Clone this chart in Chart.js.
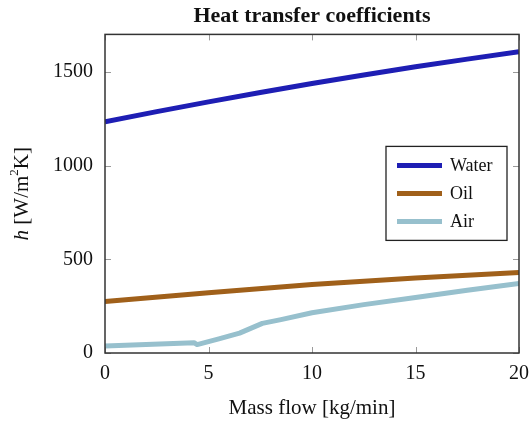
<!DOCTYPE html>
<html>
<head>
<meta charset="utf-8">
<script src="https://cdn.jsdelivr.net/npm/chart.js@4/dist/chart.umd.min.js"></script>
<style>
  html, body { margin: 0; padding: 0; background: #fff; }
  #wrap { width: 530px; height: 424px; }
</style>
</head>
<body>
<div id="wrap"><canvas id="chart" width="530" height="424"></canvas></div>
<script>
'use strict';

// values
var waterX = [0, 2.5, 5, 7.5, 10, 12.5, 15, 17.5, 20];
var waterY = [1233, 1288, 1340, 1390, 1438, 1483, 1527, 1568, 1607];

var oilX = [0, 5, 10, 15, 20];
var oilY = [275, 322, 365, 400, 429];

var airX = [0, 4.3, 4.45, 5.5, 6.5, 7.6, 8.5, 10, 12.5, 15, 17.5, 20];
var airY = [37, 55, 45, 75, 106, 158, 178, 215, 258, 296, 335, 371];

var xTicks = [0, 5, 10, 15, 20];
var yTicks = [0, 500, 1000, 1500];

var seriesNames = ['Water', 'Oil', 'Air'];
var seriesColors = ['#1e1eb4', '#a0601a', '#97c0cd'];

var FONT = '"Liberation Serif", "DejaVu Serif", serif';

function toPoints(xs, ys) {
    return xs.map(function(x, i) { return { x: x, y: ys[i] }; });
}

// frame, inward ticks, legend box and the y title with italic h
var decorations = {
    id: 'decorations',
    afterDraw: function(chart) {
        var ctx = chart.ctx;
        var a = chart.chartArea;
        var xs = chart.scales.x;
        var ys = chart.scales.y;
        var tl = 6;

        ctx.save();
        ctx.strokeStyle = '#9a9a9a';
        ctx.lineWidth = 1;
        ctx.beginPath();
        xTicks.forEach(function(v) {
            var px = Math.round(xs.getPixelForValue(v)) + 0.5;
            ctx.moveTo(px, a.bottom); ctx.lineTo(px, a.bottom - tl);
            ctx.moveTo(px, a.top); ctx.lineTo(px, a.top + tl);
        });
        yTicks.forEach(function(v) {
            var py = Math.round(ys.getPixelForValue(v)) + 0.5;
            ctx.moveTo(a.left, py); ctx.lineTo(a.left + tl, py);
            ctx.moveTo(a.right, py); ctx.lineTo(a.right - tl, py);
        });
        ctx.stroke();

        ctx.strokeStyle = '#333';
        ctx.lineWidth = 1.5;
        ctx.strokeRect(a.left, a.top, a.right - a.left, a.bottom - a.top);

        // legend
        var lx = a.left + 281, ly = a.top + 112, lw = 121, lh = 94;
        ctx.fillStyle = '#fff';
        ctx.fillRect(lx, ly, lw, lh);
        ctx.strokeStyle = '#222';
        ctx.lineWidth = 1.3;
        ctx.strokeRect(lx, ly, lw, lh);
        ctx.font = '18px ' + FONT;
        ctx.textBaseline = 'middle';
        ctx.textAlign = 'left';
        chart.data.datasets.forEach(function(ds, i) {
            var cy = ly + 19 + i * 28;
            ctx.strokeStyle = ds.borderColor;
            ctx.lineWidth = 5;
            ctx.beginPath();
            ctx.moveTo(lx + 11, cy); ctx.lineTo(lx + 56, cy);
            ctx.stroke();
            ctx.fillStyle = '#111';
            ctx.fillText(ds.label, lx + 64, cy + 1);
        });

        // y axis title
        ctx.translate(22, (a.top + a.bottom) / 2);
        ctx.rotate(-Math.PI / 2);
        ctx.fillStyle = '#111';
        ctx.textBaseline = 'middle';
        var parts = [
            { t: 'h', f: 'italic 21px ' + FONT, dy: 0 },
            { t: ' [W/m', f: '21px ' + FONT, dy: 0 },
            { t: '2', f: '13px ' + FONT, dy: -7 },
            { t: 'K]', f: '21px ' + FONT, dy: 0 }
        ];
        var total = 0;
        parts.forEach(function(p) { ctx.font = p.f; total += ctx.measureText(p.t).width; });
        var x = -total / 2;
        parts.forEach(function(p) {
            ctx.font = p.f;
            ctx.fillText(p.t, x, p.dy);
            x += ctx.measureText(p.t).width;
        });
        ctx.restore();
    }
};

var datasets = [
    { label: seriesNames[0], data: toPoints(waterX, waterY), borderColor: seriesColors[0] },
    { label: seriesNames[1], data: toPoints(oilX, oilY), borderColor: seriesColors[1] },
    { label: seriesNames[2], data: toPoints(airX, airY), borderColor: seriesColors[2] }
].map(function(ds) {
    ds.borderWidth = 5;
    ds.pointRadius = 0;
    ds.fill = false;
    ds.tension = 0;
    ds.borderJoinStyle = 'round';
    return ds;
});

new Chart(document.getElementById('chart').getContext('2d'), {
    type: 'line',
    data: { datasets: datasets },
    options: {
        responsive: false,
        animation: false,
        layout: { padding: { left: 0, right: 11, top: 0, bottom: 0 } },
        plugins: {
            legend: { display: false },
            tooltip: { enabled: false },
            title: {
                display: true,
                fullSize: false,
                text: 'Heat transfer coefficients',
                color: '#111',
                font: { family: FONT, size: 22, weight: 'bold' },
                padding: { top: 3, bottom: 5 }
            }
        },
        scales: {
            x: {
                type: 'linear',
                min: 0,
                max: 20,
                grid: { display: false },
                border: { display: false },
                afterBuildTicks: function(s) { s.ticks = xTicks.map(function(v) { return { value: v }; }); },
                afterFit: function(s) { s.height = 71; s.paddingLeft = 0; s.paddingRight = 0; },
                ticks: {
                    color: '#111',
                    padding: 1,
                    maxRotation: 0,
                    font: { family: FONT, size: 20 },
                    callback: function(v) { return String(v); }
                },
                title: {
                    display: true,
                    text: 'Mass flow [kg/min]',
                    color: '#111',
                    font: { family: FONT, size: 21 },
                    padding: { top: 0, bottom: 3 }
                }
            },
            y: {
                min: 0,
                max: 1700,
                grid: { display: false },
                border: { display: false },
                afterBuildTicks: function(s) { s.ticks = yTicks.map(function(v) { return { value: v }; }); },
                afterFit: function(s) { s.width = 105; },
                ticks: {
                    color: '#111',
                    padding: 4,
                    font: { family: FONT, size: 20 },
                    callback: function(v) { return String(v); }
                }
            }
        }
    },
    plugins: [decorations]
});
</script>
</body>
</html>
